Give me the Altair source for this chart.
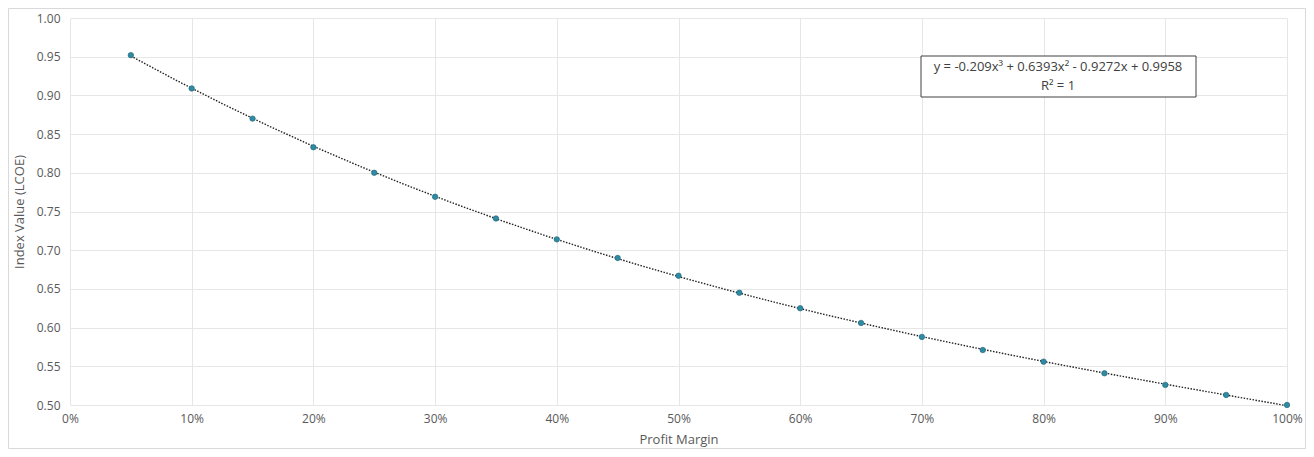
import altair as alt
import pandas as pd

margin = [0.05, 0.10, 0.15, 0.20, 0.25, 0.30, 0.35, 0.40, 0.45, 0.50,
          0.55, 0.60, 0.65, 0.70, 0.75, 0.80, 0.85, 0.90, 0.95, 1.00]
index_value = [0.952, 0.909, 0.870, 0.833, 0.800, 0.769, 0.741, 0.714, 0.690, 0.667,
               0.645, 0.625, 0.606, 0.588, 0.571, 0.556, 0.541, 0.526, 0.513, 0.500]
eq_lines = ["y = -0.209x³ + 0.6393x² - 0.9272x + 0.9958", "R² = 1"]

df = pd.DataFrame({"m": margin, "v": index_value})
FONT = "Open Sans"
W, H = 1217, 387

x = alt.X("m:Q", title="Profit Margin",
          scale=alt.Scale(domain=[0, 1], nice=False),
          axis=alt.Axis(format=".0%", values=[i / 10 for i in range(11)],
                        grid=True, gridColor="#E6E6E6", domain=False, ticks=False,
                        labelFlush=False, labelOverlap=False,
                        labelColor="#595959", labelFontSize=12, labelFont=FONT,
                        labelPadding=8, titleColor="#595959", titleFontSize=13,
                        titleFont=FONT, titleFontWeight="normal", titlePadding=9))
y = alt.Y("v:Q", title="Index Value (LCOE)",
          scale=alt.Scale(domain=[0.5, 1.0], nice=False, zero=False),
          axis=alt.Axis(format=".2f", values=[0.5 + 0.05 * i for i in range(11)],
                        grid=True, gridColor="#E6E6E6", domain=False, ticks=False,
                        labelFlush=False, labelOverlap=False,
                        labelColor="#595959", labelFontSize=12, labelFont=FONT,
                        labelPadding=10, titleColor="#595959", titleFontSize=13,
                        titleFont=FONT, titleFontWeight="normal", titlePadding=10))

base = alt.Chart(df)

trend = base.transform_regression("m", "v", method="poly", order=3).mark_line(
    color="#222222", strokeDash=[1.5, 1.5], strokeWidth=1.4
).encode(x=x, y=y)

points = base.mark_point(filled=True, size=30, color="#2E8BA5",
                         stroke="#1F5F70", strokeWidth=0.6, opacity=1).encode(x=x, y=y)

box = alt.Chart(pd.DataFrame({"a": [0]})).mark_rect(
    fill="white", stroke="#404040", strokeWidth=1
).encode(x=alt.value(851), x2=alt.value(1126), y=alt.value(38), y2=alt.value(79))

eq = alt.Chart(pd.DataFrame({"t": eq_lines, "yy": [49, 68]})).mark_text(
    font=FONT, fontSize=13, color="#404040", align="center", baseline="middle"
).encode(x=alt.value(988), y=alt.Y("yy:Q", scale=None), text="t:N")

border = alt.Chart(pd.DataFrame({"a": [0]})).mark_rect(
    fill=None, stroke="#D9D9D9", strokeWidth=1, clip=False
).encode(x=alt.value(-61.5), x2=alt.value(1235.5), y=alt.value(-9.5), y2=alt.value(430.5))

chart = alt.layer(border, trend, points, box, eq).properties(
    width=W, height=H,
    autosize=alt.AutoSizeParams(type="none"),
    padding={"left": 62, "top": 10, "right": 19, "bottom": 44},
    background="white",
).configure_view(stroke=None)

chart.save("out.html", embed_options={"renderer": "svg", "actions": False})
